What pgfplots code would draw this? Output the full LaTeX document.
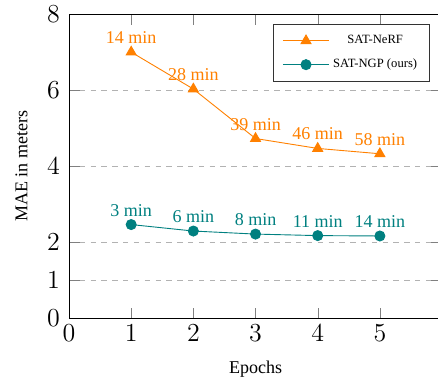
\documentclass[border=0pt]{standalone}
\usepackage{pgfplots}
\pgfplotsset{compat=1.18}
\usepackage{fontspec}
\setmainfont{Liberation Serif}
\begin{document}
\begin{tikzpicture}
\begin{axis}[
  scale only axis,
  width=207pt, height=169pt,
  xmin=0, xmax=6, ymin=0, ymax=8,
  xtick={0,1,2,3,4,5}, ytick={0,1,2,4,6,8},
  ticklabel style={font=\Large},
  yticklabel style={xshift=-1.5pt},
  tick style={gray},
  major tick length=6pt,
  ymajorgrids, grid style={dashed, gray!60},
  xlabel={Epochs}, ylabel={MAE in meters},
  xlabel shift=4pt, ylabel shift=4pt,
  legend style={at={(0.968,0.967)}, anchor=north east, font=\scriptsize, draw=black!80,
    inner xsep=5pt, inner ysep=4pt, row sep=3pt},
  legend cell align=center,
  legend image code/.code={\draw[mark repeat=2,mark phase=2,#1] plot coordinates {(0cm,0cm) (0.45cm,0cm) (0.9cm,0cm)};},
  nodes near coords,
  point meta=explicit symbolic,
]
\addplot[color=orange, mark=triangle*, mark size=3.2pt, line width=0.5pt,
  every node near coord/.append style={text=orange, font=\normalsize, anchor=south, yshift=1pt}]
  coordinates {(1,7.00) [14 min] (2,6.03) [28 min] (3,4.73) [39 min] (4,4.47) [46 min] (5,4.33) [58 min]};
\addlegendentry{SAT-NeRF}
\addplot[color=teal, mark=*, mark size=2.8pt, line width=0.5pt,
  every node near coord/.append style={text=teal, font=\normalsize, anchor=south, yshift=1pt}]
  coordinates {(1,2.47) [3 min] (2,2.30) [6 min] (3,2.22) [8 min] (4,2.18) [11 min] (5,2.17) [14 min]};
\addlegendentry{SAT-NGP (ours)}
\coordinate (cut) at (axis cs:5.935,8);
\end{axis}
\pgfresetboundingbox
\path[use as bounding box] ([xshift=-38.3pt,yshift=-35pt]current axis.south west) rectangle ([yshift=7.8pt]cut);
\end{tikzpicture}
\end{document}
